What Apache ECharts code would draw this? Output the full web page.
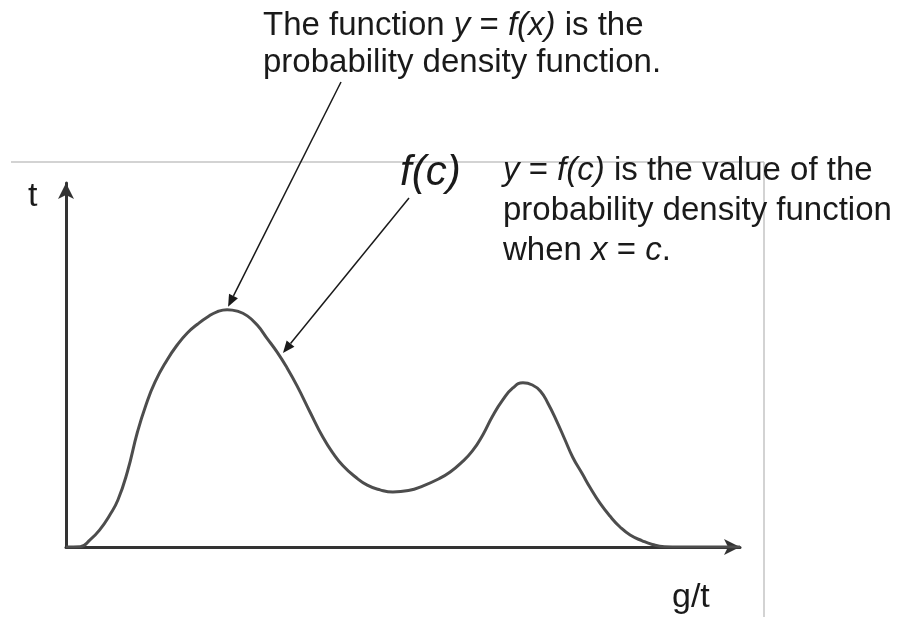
<!DOCTYPE html>
<html>
<head>
<meta charset="utf-8">
<script src="https://cdn.jsdelivr.net/npm/echarts@6/dist/echarts.min.js"></script>
<style>
    html, body { margin: 0; padding: 0; background: #fff; }
    #chart { width: 898px; height: 617px; }
</style>
</head>
<body>
<div id="chart"></div>
<script>
// density curve (x: 0..100, y: 0..100)
var xValues = [0, 2.1, 3.6, 5.0, 6.5, 7.7, 9.1, 10.6, 11.8, 13.2, 15.0, 16.5, 18.0, 19.5, 21.0, 22.4, 23.9, 25.4,
    26.9, 28.4, 29.8, 31.3, 32.8, 34.3, 36.2, 38.1, 39.6, 41.1, 42.9, 44.7, 46.6, 48.5, 50.8, 53.0, 55.5, 57.0,
    58.5, 60.3, 61.9, 63.3, 64.8, 66.3, 67.8, 69.2, 70.4, 71.5, 72.8, 74.0, 75.2, 76.6, 77.8, 79.2, 80.7, 82.2,
    83.7, 85.5, 87.0, 88.8, 91.1, 100];
var yValues = [0, 0.1, 2.0, 4.7, 8.8, 12.9, 20.6, 31.6, 38.7, 45.3, 51.4, 55.5, 58.8, 61.2, 63.2, 64.6, 65.2, 64.8,
    63.5, 60.9, 57.4, 53.6, 49.2, 44.2, 37.1, 30.2, 25.8, 22.3, 19.3, 17.0, 15.7, 15.1, 15.5, 16.8, 18.9, 20.6,
    22.9, 26.4, 31.0, 36.0, 40.4, 43.7, 45.1, 44.5, 42.8, 39.5, 34.6, 29.6, 24.6, 20.1, 16.2, 12.1, 8.5, 5.5,
    3.3, 1.7, 0.7, 0.1, 0, 0];
var peakIndex = 16;   // top arrow points here
var cIndex = 21;      // f(c) arrow points here

var xName = 'g/t';
var yName = 't';

var chartDom = document.getElementById('chart');
var chart = echarts.init(chartDom);

var points = [];
for (var i = 0; i < xValues.length; i++) {
    points.push([xValues[i], yValues[i]]);
}

var axisCommon = {
    type: 'value',
    min: 0,
    max: 100,
    axisLine: {
        show: true,
        symbol: ['none', 'arrow'],
        symbolSize: [12, 16],
        lineStyle: { color: '#333', width: 3 }
    },
    axisTick: { show: false },
    axisLabel: { show: false },
    splitLine: { show: false }
};

chart.setOption({
    animation: false,
    grid: { left: 66, right: 158, top: 183, bottom: 70 },
    xAxis: axisCommon,
    yAxis: axisCommon,
    series: [{
        type: 'line',
        data: points,
        smooth: 0.5,
        symbol: 'none',
        lineStyle: { color: '#4d4d4d', width: 3 }
    }]
});

function arrow(from, to) {
    var dx = to[0] - from[0], dy = to[1] - from[1];
    var len = Math.sqrt(dx * dx + dy * dy);
    var ux = dx / len, uy = dy / len;
    var bx = to[0] - ux * 12, by = to[1] - uy * 12;
    return [{
        type: 'line',
        shape: { x1: from[0], y1: from[1], x2: bx, y2: by },
        style: { stroke: '#1a1a1a', lineWidth: 1.5 }
    }, {
        type: 'polygon',
        shape: { points: [to, [bx - uy * 5, by + ux * 5], [bx + uy * 5, by - ux * 5]] },
        style: { fill: '#1a1a1a' }
    }];
}

var peakPx = chart.convertToPixel({ seriesIndex: 0 }, points[peakIndex]);
var cPx = chart.convertToPixel({ seriesIndex: 0 }, points[cIndex]);

var textFont = 'Liberation Sans, Arial, sans-serif';
var rich = {
    i: { fontStyle: 'italic', fontSize: 33, fontFamily: textFont, fill: '#1a1a1a' }
};

function label(x, y, text, size, italic) {
    return {
        type: 'text',
        x: x,
        y: y,
        style: {
            text: text,
            fontSize: size,
            fontFamily: textFont,
            fontStyle: italic ? 'italic' : 'normal',
            fill: '#1a1a1a',
            verticalAlign: 'middle',
            rich: rich
        }
    };
}

var graphics = [
    { type: 'line', shape: { x1: 11, y1: 162, x2: 764, y2: 162 }, style: { stroke: '#c4c4c4', lineWidth: 1.5 } },
    { type: 'line', shape: { x1: 764, y1: 162, x2: 764, y2: 617 }, style: { stroke: '#c4c4c4', lineWidth: 1.5 } },
    label(263, 26, 'The function {i|y} = {i|f(x)} is the', 33),
    label(263, 63, 'probability density function.', 33),
    label(400, 173, 'f(c)', 42, true),
    label(503, 171, '{i|y} = {i|f(c)} is the value of the', 33),
    label(503, 211, 'probability density function', 33),
    label(503, 251, 'when {i|x} = {i|c}.', 33),
    label(28, 197, yName, 34),
    label(672, 598, xName, 34)
];
graphics = graphics.concat(arrow([341, 82], [peakPx[0] + 1, peakPx[1] - 3]));
graphics = graphics.concat(arrow([409, 198], [cPx[0] + 6, cPx[1] + 1]));

chart.setOption({ graphic: graphics });
</script>
</body>
</html>
